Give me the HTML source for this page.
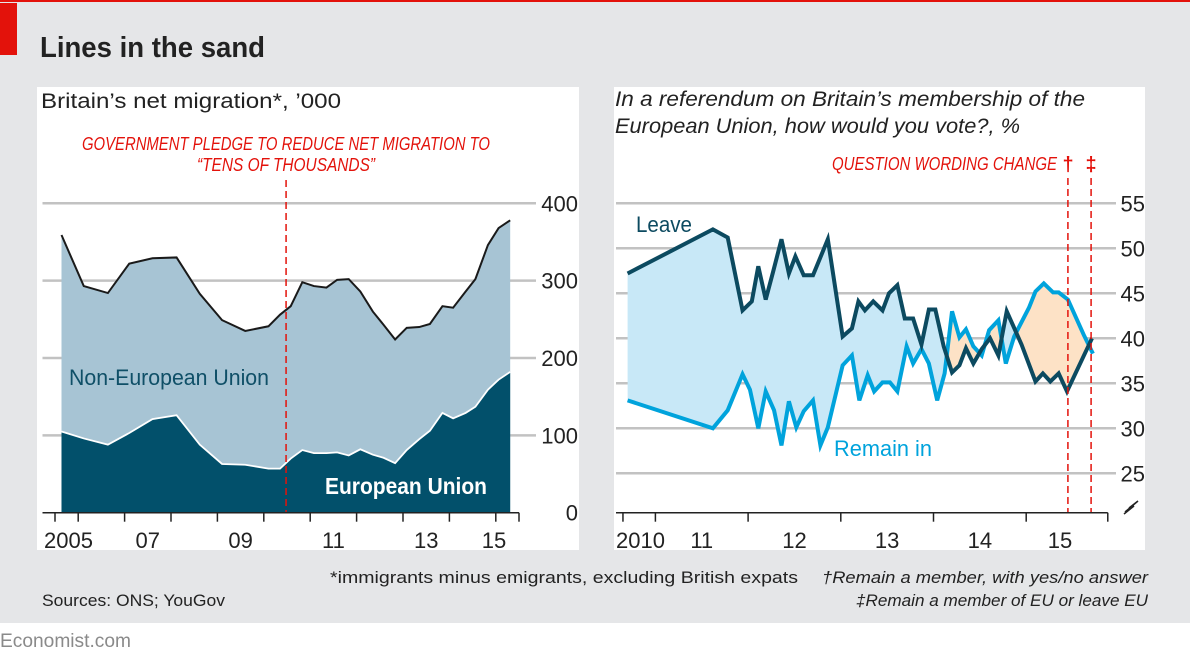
<!DOCTYPE html>
<html><head><meta charset="utf-8">
<style>
html,body{margin:0;padding:0;background:#fff;}
body{width:1190px;height:660px;position:relative;overflow:hidden;font-family:"Liberation Sans",sans-serif;}
svg{position:absolute;left:0;top:0;}
</style></head>
<body>
<svg id="chart" width="1190" height="660" viewBox="0 0 1190 660">
  <rect x="0" y="0" width="1190" height="623" fill="#e5e6e8"/>
  <rect x="0" y="0" width="1190" height="2" fill="#e3120b"/>
  <rect x="0" y="3" width="17" height="52" fill="#e3120b"/>
  <text x="40" y="57" font-size="29" font-weight="bold" fill="#222" textLength="225" lengthAdjust="spacingAndGlyphs">Lines in the sand</text>
  <rect x="37" y="87" width="542" height="463" fill="#fff"/>
  <rect x="614" y="87" width="531" height="463" fill="#fff"/>
  <text x="41" y="108" font-size="21" fill="#222" textLength="300" lengthAdjust="spacingAndGlyphs">Britain’s net migration*, ’000</text>
  <text x="615" y="106" font-size="21" font-style="italic" fill="#222" textLength="470" lengthAdjust="spacingAndGlyphs">In a referendum on Britain’s membership of the</text>
  <text x="615" y="133" font-size="21" font-style="italic" fill="#222" textLength="405" lengthAdjust="spacingAndGlyphs">European Union, how would you vote?, %</text>
  <text x="286" y="150" font-size="18" font-style="italic" fill="#e3120b" text-anchor="middle" textLength="408" lengthAdjust="spacingAndGlyphs">GOVERNMENT PLEDGE TO REDUCE NET MIGRATION TO</text>
  <text x="286" y="171" font-size="18" font-style="italic" fill="#e3120b" text-anchor="middle" textLength="178" lengthAdjust="spacingAndGlyphs">“TENS OF THOUSANDS”</text>
  <text x="1057" y="170" font-size="18" font-style="italic" fill="#e3120b" text-anchor="end" textLength="225" lengthAdjust="spacingAndGlyphs">QUESTION WORDING CHANGE</text>
  <text x="1068" y="171" font-size="20" font-weight="bold" fill="#e3120b" text-anchor="middle">†</text>
  <text x="1091" y="171" font-size="20" font-weight="bold" fill="#e3120b" text-anchor="middle">‡</text>
  <g id="left"></g>
  <g id="right"></g>
  <text x="330" y="583" font-size="17" fill="#222" textLength="468" lengthAdjust="spacingAndGlyphs">*immigrants minus emigrants, excluding British expats</text>
  <text x="1148" y="583" font-size="17" font-style="italic" fill="#222" text-anchor="end" textLength="326" lengthAdjust="spacingAndGlyphs">†Remain a member, with yes/no answer</text>
  <text x="1148" y="606" font-size="17" font-style="italic" fill="#222" text-anchor="end" textLength="292" lengthAdjust="spacingAndGlyphs">‡Remain a member of EU or leave EU</text>
  <text x="42" y="606" font-size="17" fill="#222" textLength="183" lengthAdjust="spacingAndGlyphs">Sources: ONS; YouGov</text>
  <text x="0" y="647" font-size="19" fill="#8a8a8a" textLength="131" lengthAdjust="spacingAndGlyphs">Economist.com</text>
</svg>
<script>
// ---- Left chart data (net migration, '000) ----
const migYears = [2005.64,2006.12,2006.64,2007.10,2007.60,2008.12,2008.62,2009.10,2009.60,2010.10,2010.35,2010.58,2010.83,2011.08,2011.35,2011.58,2011.83,2012.08,2012.35,2012.58,2012.83,2013.08,2013.35,2013.58,2013.85,2014.08,2014.35,2014.56,2014.83,2015.06,2015.31];
const migTotal = [359,293,284,322,329,330,283,249,235,241,256,267,298,293,291,301,302,286,260,243,224,239,240,244,267,265,286,302,346,368,378];
const migEU = [105,96,88,103,121,126,88,63,62,57,57,70,81,77,77,78,74,82,75,71,64,81,95,106,129,122,129,137,159,172,182];
const migTicks = [0,100,200,300,400];
const migYearLabels = ["2005","07","09","11","13","15"];
const migLabelYears = [2005,2007,2009,2011,2013,2015];
const migTickYears = [2005.5,2006,2007,2008,2009,2010,2011,2012,2013,2014,2015,2015.5];
const pledgeYear = 2010.48;

// ---- Right chart data (referendum poll, %) ----
const leaveYears = [2010.70,2011.62,2011.78,2011.94,2012.04,2012.11,2012.19,2012.27,2012.36,2012.44,2012.51,2012.60,2012.70,2012.86,2013.02,2013.12,2013.19,2013.26,2013.35,2013.45,2013.52,2013.61,2013.69,2013.78,2013.87,2013.95,2014.02,2014.11,2014.20,2014.28,2014.35,2014.43,2014.52,2014.61,2014.70,2014.79,2014.95,2015.10,2015.18,2015.26,2015.35,2015.44,2015.71];
const leaveVals = [47.2,52.1,51.2,43.1,44.1,48.0,44.3,47.4,51.0,47.2,49.1,47.0,47.0,51.0,40.2,41.1,44.1,43.1,44.1,43.1,45.0,45.9,42.2,42.2,39.3,43.2,43.2,39.1,36.2,37.0,38.9,37.2,38.8,40.0,38.1,43.0,39.3,35.2,36.1,35.2,36.1,34.1,40.0];
const remainYears = [2010.70,2011.62,2011.78,2011.94,2012.02,2012.11,2012.19,2012.28,2012.36,2012.44,2012.52,2012.60,2012.70,2012.78,2012.86,2013.02,2013.12,2013.20,2013.29,2013.36,2013.45,2013.53,2013.61,2013.71,2013.78,2013.87,2013.95,2014.04,2014.12,2014.20,2014.28,2014.35,2014.43,2014.52,2014.60,2014.70,2014.78,2014.87,2015.03,2015.10,2015.19,2015.29,2015.35,2015.45,2015.62,2015.72];
const remainVals = [33.1,30.0,32.0,36.0,34.3,30.0,34.1,32.0,28.1,33.0,30.1,31.9,33.1,28.1,30.1,37.0,38.1,33.1,35.9,34.1,35.1,35.1,34.1,39.1,37.2,38.8,37.2,33.1,36.1,43.0,40.1,41.0,39.1,38.1,40.9,42.0,37.2,40.2,43.4,45.2,46.1,45.1,45.1,44.3,40.4,38.3];
const pollTicks = [25,30,35,40,45,50,55];
const pollYearLabels = ["2010","11","12","13","14","15"];
const pollLabelYears = [2010,2011,2012,2013,2014,2015];
const pollTickYears = [2010.65,2011,2012,2013,2014,2015,2015.88];
const wordingChangeYears = [2015.45,2015.70];

const NS = "http://www.w3.org/2000/svg";
function mk(parent, tag, attrs){ const e=document.createElementNS(NS,tag); for(const k in attrs) e.setAttribute(k,attrs[k]); parent.appendChild(e); return e; }

// Left axes
const lx = t => 31.8 + (t-2005)*46.4;
const ly = v => 512.7 - v*(309.4/400);
const L = document.getElementById('left');
migTicks.forEach(v=>{
  if(v>0){ const g=mk(L,'line',{x1:42.5,x2:536,y1:ly(v),y2:ly(v),stroke:'#c2c2c2','stroke-width':2.5});
  
   }
  const t=mk(L,'text',{x:578,y:ly(v)+8,'font-size':22,fill:'#222','text-anchor':'end'}); t.textContent=v;
  
  
});
const up = migYears.map((t,i)=>lx(t)+','+ly(migTotal[i])).join(' ');
const eu = migYears.map((t,i)=>lx(t)+','+ly(migEU[i])).join(' ');
const lx0=lx(migYears[0]), lx1=lx(migYears[migYears.length-1]), lb=ly(0);
const nonEu = mk(L,'polygon',{points:up+' '+lx1+','+lb+' '+lx0+','+lb,fill:'#a7c4d4'});


const euA = mk(L,'polygon',{points:eu+' '+lx1+','+lb+' '+lx0+','+lb,fill:'#02506b'});


const euL = mk(L,'polyline',{points:eu,fill:'none',stroke:'#fff','stroke-width':1.8});


const totL = mk(L,'polyline',{points:up,fill:'none',stroke:'#1a1a1a','stroke-width':2});


const pl = mk(L,'line',{x1:lx(pledgeYear),x2:lx(pledgeYear),y1:180,y2:512,stroke:'#e3120b','stroke-width':1.5,'stroke-dasharray':'7,4'});


const lax = mk(L,'line',{x1:42.5,x2:lx(2015.5),y1:lb,y2:lb,stroke:'#222','stroke-width':1.5});


migTickYears.forEach(yr=>{
  const tk=mk(L,'line',{x1:lx(yr),x2:lx(yr),y1:lb,y2:lb+9,stroke:'#222','stroke-width':1.5});
  
  
});
migLabelYears.forEach((yr,i)=>{
  const xx = i===0 ? 44 : (i===5 ? 494 : lx(yr+0.5));
  const t=mk(L,'text',{x:xx,y:548,'font-size':22,fill:'#222','text-anchor':i===0?'start':'middle'}); t.textContent=migYearLabels[i];
  
  
});
const n1=mk(L,'text',{x:69,y:385,'font-size':22,fill:'#0f4f67',textLength:200,lengthAdjust:'spacingAndGlyphs'}); n1.textContent='Non-European Union';


const n2=mk(L,'text',{x:325,y:494,'font-size':23,'font-weight':'bold',fill:'#fff',textLength:162,lengthAdjust:'spacingAndGlyphs'}); n2.textContent='European Union';



// Right axes
const rx = t => 655.4 + (t-2011)*92.7;
const ry = v => 203.3 + (55-v)*9;
const R = document.getElementById('right');
pollTicks.forEach(v=>{
  const g=mk(R,'line',{x1:616,x2:1116,y1:ry(v),y2:ry(v),stroke:'#c2c2c2','stroke-width':2.5});
  
  
  const t=mk(R,'text',{x:1145,y:ry(v)+8,'font-size':22,fill:'#222','text-anchor':'end'}); t.textContent=v;
  
  
});
const clipTop=150, rBot=512.7;
const lvPts = leaveYears.map((t,i)=>rx(t)+','+ry(leaveVals[i])).join(' ');
const rmPts = remainYears.map((t,i)=>rx(t)+','+ry(remainVals[i])).join(' ');
const ax0=rx(Math.min(leaveYears[0],remainYears[0]))-1, ax1=rx(Math.max(leaveYears[leaveYears.length-1],remainYears[remainYears.length-1]))+1;
const defs=mk(R,'defs',{});
const c1=mk(defs,'clipPath',{id:'aboveRemain'}); mk(c1,'polygon',{points:rmPts+' '+ax1+','+clipTop+' '+ax0+','+clipTop});
const c2=mk(defs,'clipPath',{id:'aboveLeave'}); mk(c2,'polygon',{points:lvPts+' '+ax1+','+clipTop+' '+ax0+','+clipTop});
const bf=mk(R,'polygon',{points:lvPts+' '+rx(leaveYears[leaveYears.length-1])+','+rBot+' '+rx(leaveYears[0])+','+rBot,fill:'#c8e8f7','clip-path':'url(#aboveRemain)'});


const of=mk(R,'polygon',{points:rmPts+' '+rx(remainYears[remainYears.length-1])+','+rBot+' '+rx(remainYears[0])+','+rBot,fill:'#fde2c6','clip-path':'url(#aboveLeave)'});


const rl=mk(R,'polyline',{points:rmPts,fill:'none',stroke:'#00a3dc','stroke-width':4});


const ll=mk(R,'polyline',{points:lvPts,fill:'none',stroke:'#0c4a60','stroke-width':4});


wordingChangeYears.forEach((yr,i)=>{
  const d=mk(R,'line',{x1:rx(yr),x2:rx(yr),y1:178,y2:512,stroke:'#e3120b','stroke-width':1.5,'stroke-dasharray':'7,4'});
  
  
});
const rax=mk(R,'line',{x1:616,x2:rx(2015.88),y1:rBot,y2:rBot,stroke:'#222','stroke-width':1.5});


pollTickYears.forEach(yr=>{
  const tk=mk(R,'line',{x1:rx(yr),x2:rx(yr),y1:rBot,y2:rBot+9,stroke:'#222','stroke-width':1.5});
  
  
});
pollLabelYears.forEach((yr,i)=>{
  const xx = i===0 ? 616 : (i===5 ? 1060 : rx(yr+0.5));
  const t=mk(R,'text',{x:xx,y:548,'font-size':22,fill:'#222','text-anchor':i===0?'start':'middle'}); t.textContent=pollYearLabels[i];
  
  
});
const brk=mk(R,'polyline',{points:'1125,512 1138,501 1129,508 1134,506 1124,514',fill:'none',stroke:'#222','stroke-width':1.5});


const lvl=mk(R,'text',{x:636,y:232,'font-size':22,fill:'#0c4a60',textLength:56,lengthAdjust:'spacingAndGlyphs'}); lvl.textContent='Leave';


const rml=mk(R,'text',{x:834,y:456,'font-size':22,fill:'#00a3dc',textLength:98,lengthAdjust:'spacingAndGlyphs'}); rml.textContent='Remain in';


</script>
</body></html>
